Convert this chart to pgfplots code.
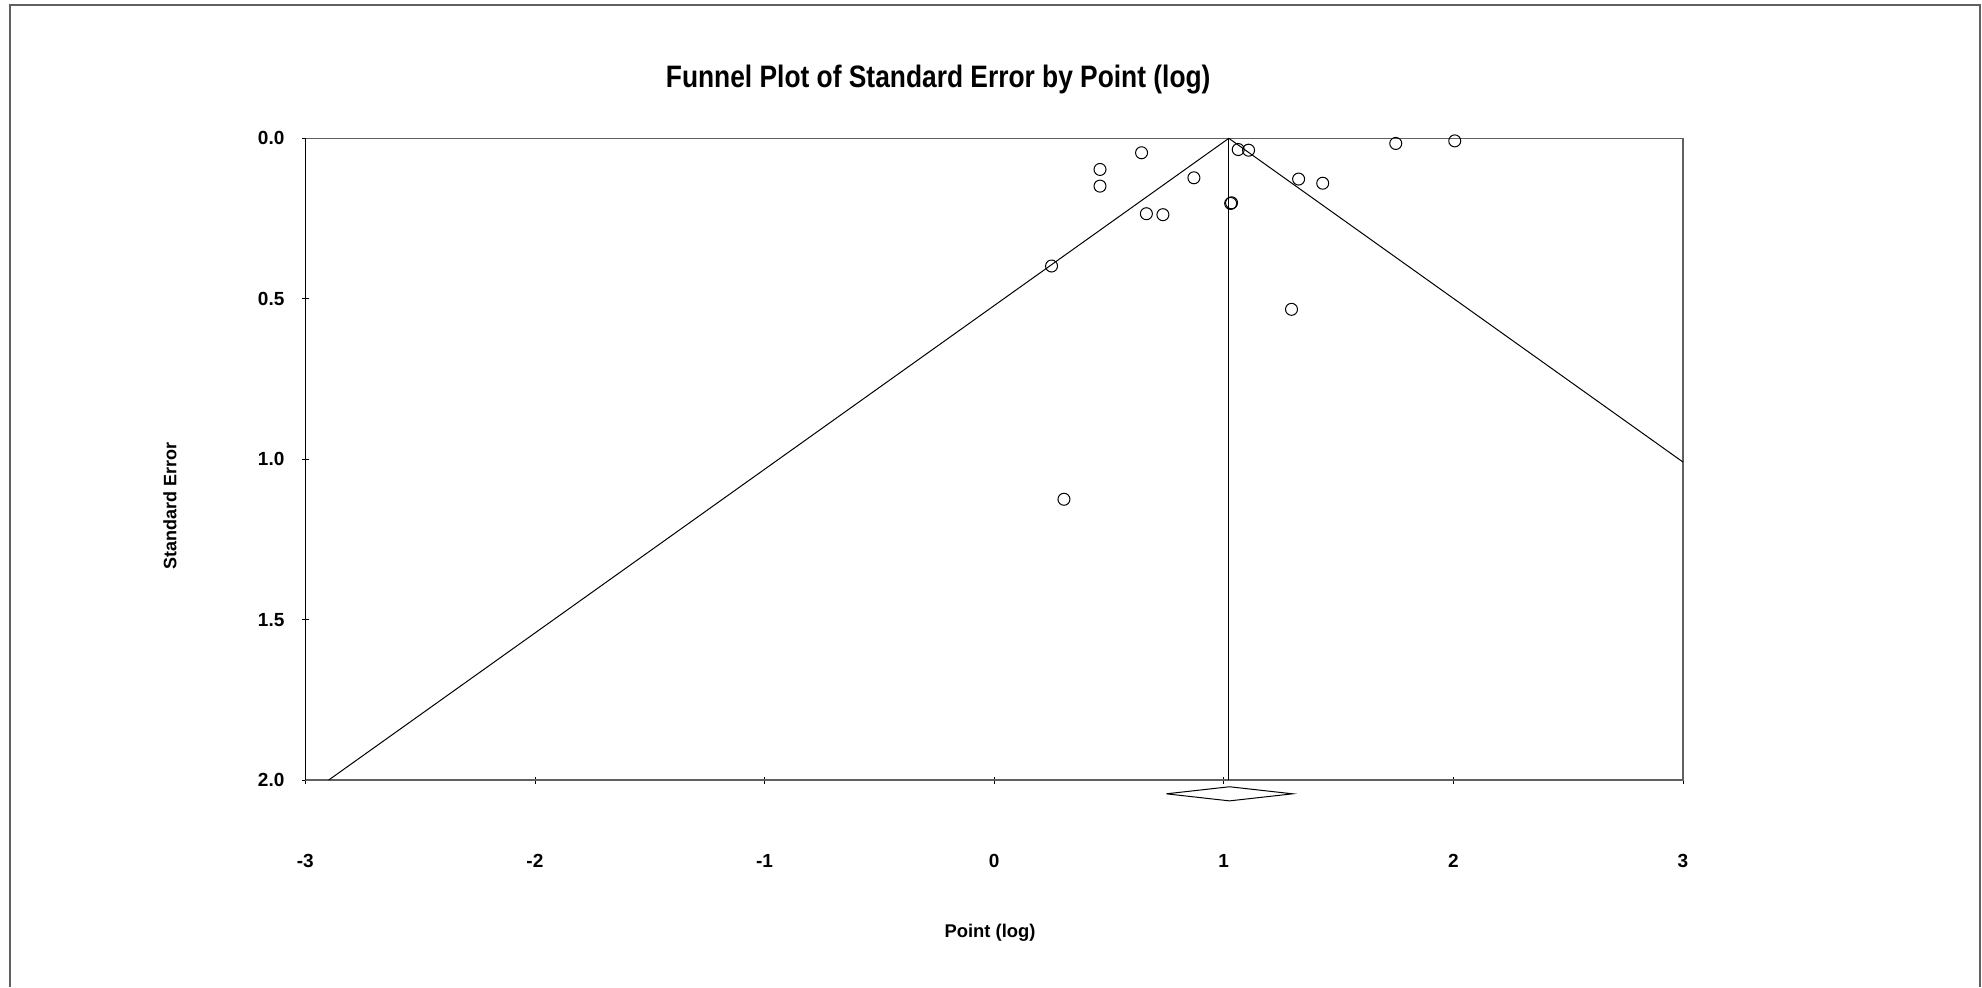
\documentclass[border=0pt]{standalone}
\usepackage{fontspec}
\setmainfont{Liberation Sans}
\usepackage{graphicx}
\usepackage{pgfplots}
\pgfplotsset{compat=1.18}
\begin{document}
\begin{tikzpicture}
\path[use as bounding box] (0,0) rectangle (991pt,-493.5pt);
\draw[gray!75!black, line width=1pt] (5pt,-493.5pt) -- (5pt,-2.5pt) -- (990pt,-2.5pt) -- (990pt,-493.5pt);
\begin{axis}[
  at={(152.65pt,-69.15pt)}, anchor=north west,
  scale only axis, width=688.85pt, height=320.85pt,
  xmin=-3, xmax=3, ymin=0, ymax=2, y dir=reverse,
  xtick={-3,-2,-1,0,1,2,3}, ytick={0,0.5,1,1.5,2},
  xtick pos=bottom, ytick pos=left,
  tick align=center, major tick length=3.5pt,
  tick style={black, line width=0.4pt},
  axis line style={draw=gray!75!black, line width=0.8pt},
  /pgf/number format/assume math mode=true,
  tick label style={font=\bfseries\fontsize{9.5}{11}\selectfont},
  yticklabel style={/pgf/number format/fixed, /pgf/number format/fixed zerofill, /pgf/number format/precision=1, anchor=east, inner sep=0pt, xshift=-8.5pt},
  xticklabel style={anchor=center, inner sep=0pt, yshift=-38.5pt},
  title={\scalebox{0.85}[1]{Funnel Plot of Standard Error by Point (log)}},
  title style={at={(axis description cs:0.4594,1.097)}, anchor=center, yshift=-7.5pt, inner sep=0pt, font=\bfseries\fontsize{15.5}{18}\selectfont},
  xlabel={Point (log)},
  xlabel style={at={(axis description cs:0.497,-0.2384)}, anchor=center, inner sep=0pt, font=\bfseries\fontsize{9.2}{11}\selectfont},
  ylabel={Standard Error},
  ylabel style={at={(axis description cs:-0.0982,0.427)}, anchor=center, inner sep=0pt, font=\bfseries\fontsize{9}{11}\selectfont},
  clip=false,
]
% left axis line (black)
\draw[black, line width=0.5pt] (axis cs:-3,0) -- (axis cs:-3,2);
% funnel
\addplot[black, line width=0.5pt, mark=none] coordinates {(-2.898,2) (1.022,0) (3,1.009)};
\addplot[black, line width=0.5pt, mark=none] coordinates {(1.022,0) (1.022,2)};
% summary diamond
\addplot[black, line width=0.5pt, mark=none] coordinates {(0.75,2.043) (1.025,2.021) (1.30,2.043) (1.025,2.065) (0.75,2.043)};
% studies
\addplot[only marks, mark=o, mark size=3pt, mark options={black, line width=0.5pt}] coordinates {
(0.642,0.045)
(0.461,0.097)
(0.461,0.149)
(0.870,0.123)
(0.663,0.235)
(0.735,0.238)
(0.250,0.398)
(1.030,0.203)
(1.034,0.201)
(1.063,0.035)
(1.108,0.037)
(1.326,0.127)
(1.431,0.140)
(1.749,0.016)
(2.006,0.008)
(1.295,0.533)
(0.304,1.125)
};
\end{axis}
\end{tikzpicture}
\end{document}
